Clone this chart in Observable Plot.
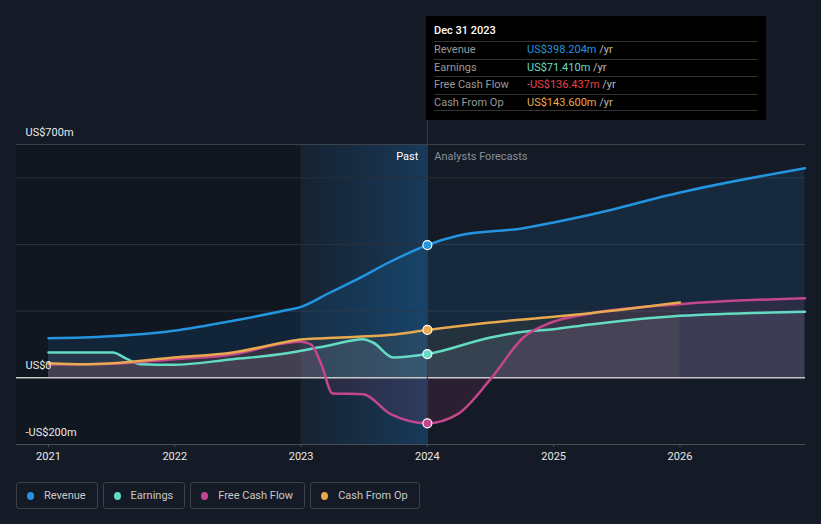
<!DOCTYPE html>
<html>
<head>
<meta charset="utf-8">
<script src="https://cdn.jsdelivr.net/npm/d3@7"></script>
<script src="https://cdn.jsdelivr.net/npm/@observablehq/plot@0.6"></script>
<style>
  html, body { margin: 0; padding: 0; background: #151b26; }
  #wrap { position: relative; width: 821px; height: 524px; overflow: hidden; font-family: Roboto, "Noto Sans", sans-serif; }
  #chart { position: absolute; left: 0; top: 0; }
  #tip { position: absolute; left: 426px; top: 16px; width: 340px; height: 104px; background: #000; font-size: 11px; }
  #tip .title { position: absolute; left: 8px; top: 8px; color: #fff; font-weight: 500; font-size: 11px; }
  #tip .row { position: absolute; left: 8px; right: 8px; height: 17px; border-top: 1px solid #333; line-height: 16px; }
  #tip .lab { position: absolute; left: 0; color: #9a9a9a; }
  #tip .val { position: absolute; left: 93px; }
  #tip .yr { color: #bbb; }
  #tip .bottom { position: absolute; left: 8px; right: 8px; top: 94px; border-top: 1px solid #333; }
  #legend { position: absolute; left: 16px; top: 482px; display: flex; gap: 5px; }
  #legend .item { height: 27px; border: 1px solid #3a404a; border-radius: 3px; display: flex; align-items: center; padding: 0 11px 0 10px; color: #c8c8c8; font-size: 11px; box-sizing: border-box; }
  #legend .dot { width: 7px; height: 8px; border-radius: 50%; margin-right: 10px; }
</style>
</head>
<body>
<div id="wrap">
  <div id="chart"></div>
  <div id="tip"></div>
  <div id="legend"></div>
</div>
<script>
// ---- data (US$ millions, x in fractional years) ----
const revenueYears = [2021.0, 2021.28, 2021.99, 2022.46, 2022.86, 2023.0, 2023.23, 2023.45, 2023.71, 2024.0, 2024.24, 2024.76, 2025.0, 2025.29, 2026.0, 2026.99];
const revenueValues = [119, 121, 141, 171, 201, 213, 256, 297, 349, 398.204, 426, 449, 466, 489, 556, 629];

const earningsYears = [2021.0, 2021.51, 2021.62, 2021.73, 2021.99, 2022.46, 2022.86, 2023.0, 2023.23, 2023.49, 2023.57, 2023.73, 2024.0, 2024.5, 2024.76, 2025.0, 2025.29, 2026.0, 2026.99];
const earningsValues = [76, 76, 57, 41, 39, 56, 72, 81, 98, 116, 106, 61, 71.41, 121, 138, 146, 160, 186, 198];

const fcfYears = [2021.0, 2021.5, 2022.0, 2022.46, 2022.86, 2023.0, 2023.08, 2023.16, 2023.25, 2023.49, 2023.71, 2024.0, 2024.24, 2024.5, 2024.76, 2024.98, 2025.29, 2026.0, 2026.99];
const fcfValues = [40, 42, 56, 70, 103, 108, 100, 41, -47, -49, -109, -136.437, -109, -4, 121, 166, 193, 221, 239];

const cfoYears = [2021.0, 2021.28, 2021.51, 2021.99, 2022.46, 2022.86, 2023.0, 2023.18, 2023.71, 2024.0, 2024.5, 2025.0, 2025.29, 2026.0];
const cfoValues = [44, 41, 44, 61, 76, 106, 115, 119, 129, 143.6, 166, 183, 194, 226];

const seriesNames = ["Revenue", "Earnings", "Free Cash Flow", "Cash From Op"];
const seriesColors = ["#2394df", "#64dcc4", "#c4468c", "#e8a94f"];
const tipValues = ["US$398.204m", "US$71.410m", "-US$136.437m", "US$143.600m"];
const tipColors = ["#2394df", "#64dcc4", "#e8414a", "#e8a94f"];

const xTicks = [2021, 2022, 2023, 2024, 2025, 2026];
const yLabelValues = [700, 0, -200];
const yLabelTexts = ["US$700m", "US$0", "-US$200m"];
const gridValues = [200, 400, 600];
const pastStart = 2023, nowYear = 2024;
const xDomain = [2020.747, 2026.994];

// ---- build tables ----
const toRows = (xs, ys) => xs.map((x, i) => ({x, y: ys[i]}));
const rev = toRows(revenueYears, revenueValues);
const earn = toRows(earningsYears, earningsValues);
const fcf = toRows(fcfYears, fcfValues);
const cfo = toRows(cfoYears, cfoValues);
const series = [rev, earn, fcf, cfo];
const nowDots = series.map((s, i) => ({x: nowYear, y: s.find(d => d.x === nowYear).y, c: seriesColors[i]}));

const curve = "monotone-x";
const chart = Plot.plot({
  width: 821, height: 470,
  marginTop: 144, marginBottom: 26, marginLeft: 16, marginRight: 16,
  style: {background: "transparent", color: "#e0e0e0", fontFamily: "Roboto, sans-serif", fontSize: "11px", overflow: "visible"},
  x: {domain: xDomain, label: null},
  y: {domain: [-200, 700], axis: null},
  marks: [
    Plot.rect([{a: xDomain[0], b: pastStart}], {x1: "a", x2: "b", y1: -200, y2: 700, fill: "#0c1016", fillOpacity: 0.35}),
    Plot.rect([{a: pastStart, b: nowYear}], {x1: "a", x2: "b", y1: -200, y2: 700, fill: "url(#pastGrad)"}),
    Plot.ruleY(gridValues, {stroke: "#2a303a", strokeWidth: 1}),
    Plot.ruleY([700], {stroke: "#3c424c", strokeWidth: 1}),
    Plot.areaY(rev, {x: "x", y: "y", curve, fill: "#1f7fd0", fillOpacity: 0.14}),
    Plot.areaY(cfo, {x: "x", y: "y", curve, fill: "#e8a94f", fillOpacity: 0.07}),
    Plot.areaY(earn, {x: "x", y: "y", curve, fill: "#a0a8b8", fillOpacity: 0.14}),
    Plot.areaY(fcf, {x: "x", y: "y", curve, fill: "#c4468c", fillOpacity: 0.12}),
    Plot.ruleY([0], {stroke: "#c8c8c8", strokeWidth: 1.5}),
    Plot.ruleY([-200], {stroke: "#4a505a", strokeWidth: 1}),
    Plot.ruleX([nowYear], {y1: -200, y2: 775, stroke: "#24425e", strokeWidth: 1}),
    Plot.line(rev, {x: "x", y: "y", curve, stroke: seriesColors[0], strokeWidth: 2.5}),
    Plot.line(earn, {x: "x", y: "y", curve, stroke: seriesColors[1], strokeWidth: 2.5}),
    Plot.line(fcf, {x: "x", y: "y", curve, stroke: seriesColors[2], strokeWidth: 2.5}),
    Plot.line(cfo, {x: "x", y: "y", curve, stroke: seriesColors[3], strokeWidth: 2.5}),
    Plot.dot(nowDots, {x: "x", y: "y", r: 4.5, fill: "c", stroke: "#ffffff", strokeWidth: 1.2}),
    Plot.axisX({ticks: xTicks, tickFormat: d => String(d), tickSize: 3, tickPadding: 5, stroke: "#4a505a", color: "#e8e8e8"}),
    Plot.text(yLabelTexts, {x: xDomain[0], y: (d, i) => yLabelValues[i], text: d => d, textAnchor: "start", dx: 9, dy: -12, fill: "#e8e8e8", fontSize: 11}),
    Plot.text(["Past"], {x: nowYear, y: 664, text: d => d, textAnchor: "end", dx: -9, fill: "#ffffff", fontSize: 11}),
    Plot.text(["Analysts Forecasts"], {x: nowYear, y: 664, text: d => d, textAnchor: "start", dx: 7, fill: "#8a8f98", fontSize: 11})
  ]
});

// gradient defs
const svg = d3.select(chart);
const defs = svg.insert("defs", ":first-child");
const g = defs.append("linearGradient").attr("id", "pastGrad").attr("x1", 0).attr("x2", 1).attr("y1", 0).attr("y2", 0);
g.append("stop").attr("offset", "0%").attr("stop-color", "#1c5a8c").attr("stop-opacity", 0.12);
g.append("stop").attr("offset", "100%").attr("stop-color", "#1c6aa8").attr("stop-opacity", 0.4);

document.getElementById("chart").appendChild(chart);

// tooltip
const tip = document.getElementById("tip");
tip.innerHTML = `<div class="title">Dec 31 2023</div>` +
  seriesNames.map((n, i) => `<div class="row" style="top:${25 + i * 17.5}px"><span class="lab">${n}</span><span class="val"><span style="color:${tipColors[i]}">${tipValues[i]}</span> <span class="yr">/yr</span></span></div>`).join("") +
  `<div class="bottom"></div>`;

// legend
const legend = document.getElementById("legend");
legend.innerHTML = seriesNames.map((n, i) => `<div class="item"><span class="dot" style="background:${seriesColors[i]}"></span>${n}</div>`).join("");
</script>
</body>
</html>
